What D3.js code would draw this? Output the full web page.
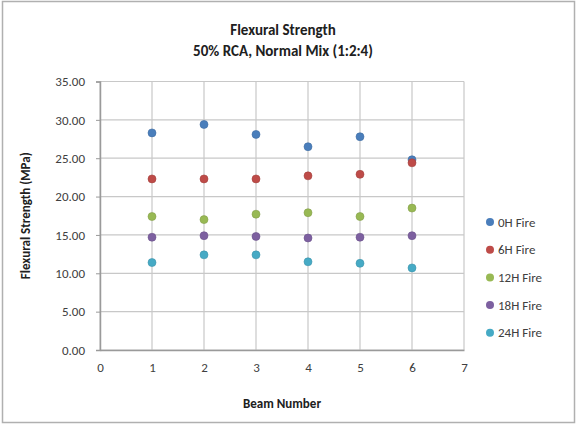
<!DOCTYPE html>
<html>
<head>
<meta charset="utf-8">
<script src="https://cdn.jsdelivr.net/npm/d3@7"></script>
<style>
  body { margin: 0; background: #fff; }
  text { font-family: Carlito, "Liberation Sans", Lato, sans-serif; }
</style>
</head>
<body>
<div class="container"></div>
<script>
const beams = [1, 2, 3, 4, 5, 6]
const seriesNames = ['0H Fire', '6H Fire', '12H Fire', '18H Fire', '24H Fire']
const fire0 = [28.3, 29.4, 28.1, 26.5, 27.8, 24.8]
const fire6 = [22.3, 22.3, 22.3, 22.7, 22.9, 24.4]
const fire12 = [17.4, 17.0, 17.7, 17.9, 17.4, 18.5]
const fire18 = [14.7, 14.9, 14.8, 14.6, 14.7, 14.9]
const fire24 = [11.4, 12.4, 12.4, 11.5, 11.3, 10.7]
const xTicks = [0, 1, 2, 3, 4, 5, 6, 7]
const yTicks = [0, 5, 10, 15, 20, 25, 30, 35]
const colors = ['#4A7EBB', '#BE4B48', '#98B954', '#7D60A0', '#46AAC5']

const allSeries = [fire0, fire6, fire12, fire18, fire24]

const width = 576
const height = 426

const svg = d3.select('.container')
  .append('svg')
  .attr('width', width)
  .attr('height', height)

// chart border
svg.append('rect')
  .attr('x', 2.5).attr('y', 1.5)
  .attr('width', 572).attr('height', 421)
  .attr('fill', 'none')
  .attr('stroke', '#b0b0b0')
  .attr('stroke-width', 1.5)

const xScale = d3.scaleLinear().domain([0, 7]).range([100, 464])
const yScale = d3.scaleLinear().domain([0, 35]).range([350, 81.5])

const grid = svg.append('g')
grid.selectAll('.hgrid')
  .data(yTicks)
  .enter()
  .append('line')
  .attr('x1', xScale(0)).attr('x2', xScale(7))
  .attr('y1', d => yScale(d)).attr('y2', d => yScale(d))
  .attr('stroke', '#c8c8c8')
  .attr('stroke-width', 1.2)

grid.selectAll('.vgrid')
  .data(xTicks)
  .enter()
  .append('line')
  .attr('x1', d => xScale(d)).attr('x2', d => xScale(d))
  .attr('y1', yScale(0)).attr('y2', yScale(35))
  .attr('stroke', '#c8c8c8')
  .attr('stroke-width', 1.2)

// axes
const yAxis = svg.append('g')
  .attr('transform', `translate(${xScale(0)},0)`)
  .call(d3.axisLeft(yScale).tickValues(yTicks).tickFormat(d3.format('.2f')).tickSize(4).tickPadding(11))
yAxis.select('.domain').attr('stroke', '#9a9a9a').attr('stroke-width', 1.5)
yAxis.selectAll('.tick line').attr('stroke', '#9a9a9a')
yAxis.selectAll('text').attr('font-size', '13px').attr('fill', '#404040')

const xAxis = svg.append('g')
  .attr('transform', `translate(0,${yScale(0)})`)
  .call(d3.axisBottom(xScale).tickValues(xTicks).tickFormat(d3.format('d')).tickSize(0).tickPadding(13))
xAxis.select('.domain').attr('stroke', '#9a9a9a').attr('stroke-width', 1.5)
xAxis.selectAll('text').attr('font-size', '13px').attr('fill', '#404040')

// points
allSeries.forEach((vals, i) => {
  svg.append('g')
    .selectAll('circle')
    .data(beams.map((b, j) => ({ b: b, v: vals[j] })))
    .enter()
    .append('circle')
    .attr('cx', d => xScale(d.b))
    .attr('cy', d => yScale(d.v))
    .attr('r', 4)
    .attr('fill', colors[i])
    .attr('stroke', d3.color(colors[i]).darker(0.4))
    .attr('stroke-width', 0.6)
})

// titles
svg.append('text')
  .attr('x', 283).attr('y', 35)
  .attr('text-anchor', 'middle')
  .attr('font-size', '15px')
  .attr('font-weight', 'bold')
  .attr('fill', '#202020')
  .text('Flexural Strength')

svg.append('text')
  .attr('x', 283).attr('y', 56)
  .attr('text-anchor', 'middle')
  .attr('font-size', '15px')
  .attr('font-weight', 'bold')
  .attr('fill', '#202020')
  .text('50% RCA, Normal Mix (1:2:4)')

svg.append('text')
  .attr('transform', `translate(30,${yScale(17.5)}) rotate(-90)`)
  .attr('text-anchor', 'middle')
  .attr('font-size', '13px')
  .attr('font-weight', 'bold')
  .attr('fill', '#202020')
  .text('Flexural Strength (MPa)')

svg.append('text')
  .attr('x', xScale(3.5)).attr('y', 408)
  .attr('text-anchor', 'middle')
  .attr('font-size', '13px')
  .attr('font-weight', 'bold')
  .attr('fill', '#202020')
  .text('Beam Number')

// legend
const legend = svg.append('g')
  .selectAll('g')
  .data(seriesNames)
  .enter()
  .append('g')
  .attr('transform', (d, i) => `translate(490,${222 + i * 27.7})`)

legend.append('circle')
  .attr('r', 4)
  .attr('fill', (d, i) => colors[i])

legend.append('text')
  .attr('x', 8).attr('y', 4.5)
  .attr('font-size', '13px')
  .attr('fill', '#404040')
  .text(d => d)
</script>
</body>
</html>
